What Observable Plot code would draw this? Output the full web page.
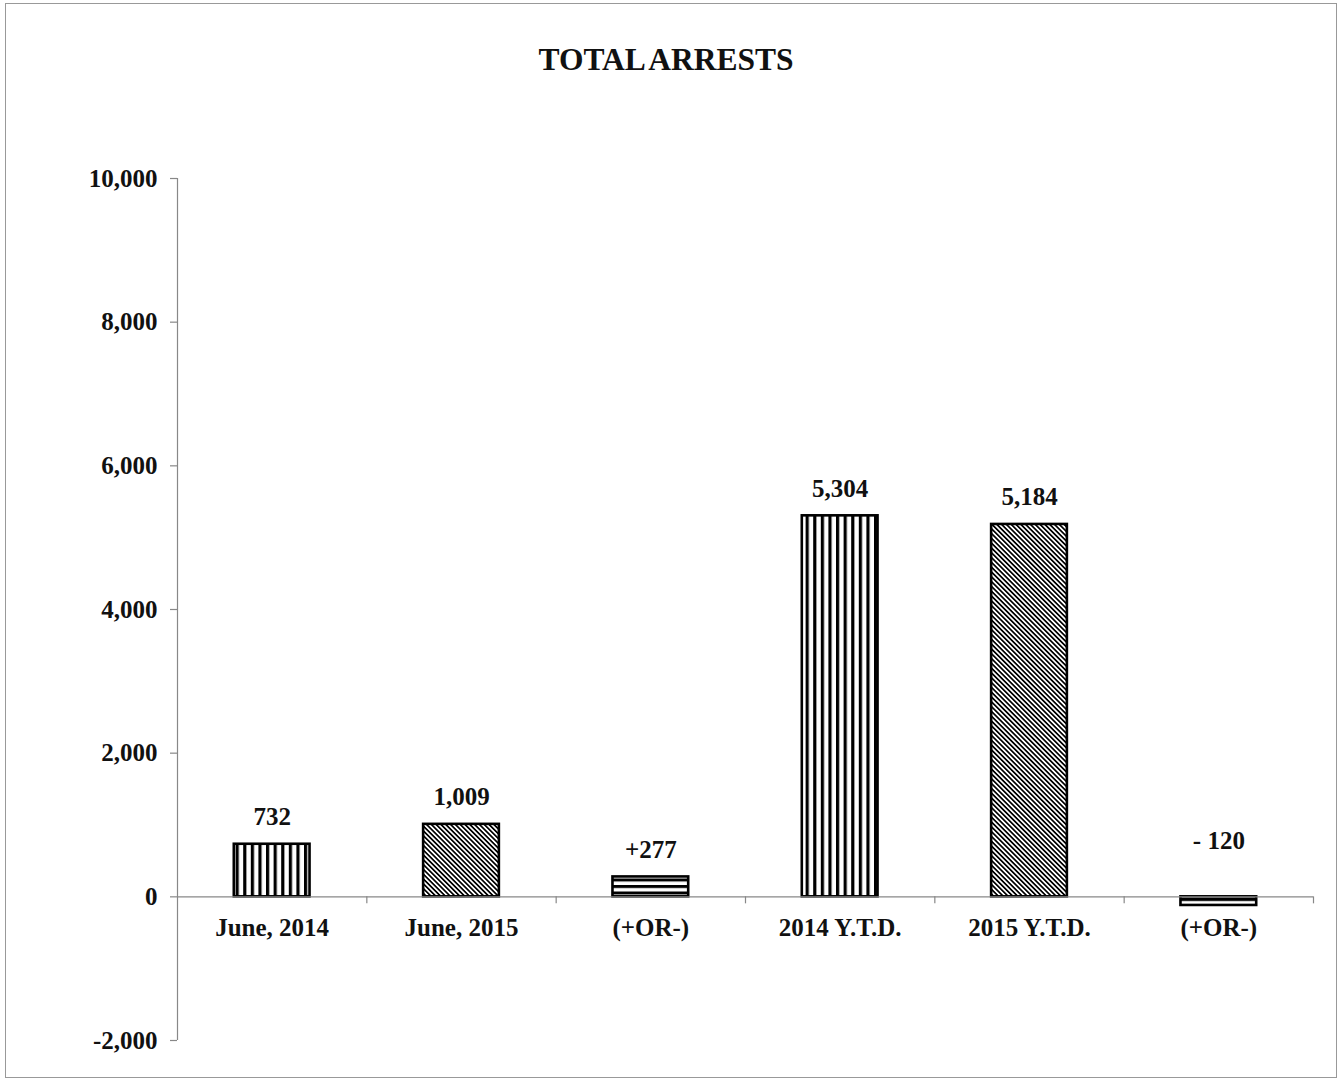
<!DOCTYPE html>
<html>
<head>
<meta charset="utf-8">
<script src="https://cdn.jsdelivr.net/npm/d3@7"></script>
<script src="https://cdn.jsdelivr.net/npm/@observablehq/plot@0.6"></script>
<style>
  html, body { margin: 0; padding: 0; background: #fff; }
  #wrap { position: relative; width: 1341px; height: 1082px; overflow: hidden; font-family: "Liberation Serif", "Times New Roman", serif; }
  #frame { position: absolute; left: 5px; top: 3px; width: 1332px; height: 1075px; border: 1.5px solid #999; box-sizing: border-box; }
  #title { position: absolute; left: 0; width: 1332px; top: 42px; text-align: center; font-weight: bold; font-size: 31.5px; color: #111; word-spacing: -2px; }
  #chart { position: absolute; left: 0; top: 0; }
</style>
</head>
<body>
<div id="wrap">
  <div id="frame"></div>
  <div id="title">TOTAL ARRESTS</div>
  <div id="chart"></div>
</div>
<script>
// ---- data ----
const categories = ["June, 2014", "June, 2015", "(+OR-)", "2014 Y.T.D.", "2015 Y.T.D.", "(+OR-)"];
const values = [732, 1009, 277, 5304, 5184, -120];
const valueLabels = ["732", "1,009", "+277", "5,304", "5,184", "- 120"];
const seriesKind = ["year2014", "year2015", "change", "year2014", "year2015", "change"];
const yTicks = [-2000, 0, 2000, 4000, 6000, 8000, 10000];
const yTickLabels = ["-2,000", "0", "2,000", "4,000", "6,000", "8,000", "10,000"];

const data = categories.map((c, i) => ({ i, category: c, value: values[i], label: valueLabels[i], kind: seriesKind[i] }));
const boundaries = d3.range(1, categories.length + 1);

const fontFamily = '"Liberation Serif", "Times New Roman", serif';
const fs = 25;

const chart = Plot.plot({
  width: 1341,
  height: 1082,
  marginLeft: 177,
  marginRight: 28,
  marginTop: 178,
  marginBottom: 42,
  style: { fontFamily, background: "transparent", overflow: "visible" },
  x: { domain: [0, categories.length], axis: null },
  y: { domain: [-2000, 10000], axis: null },
  color: { type: "identity" },
  marks: [
    // y axis line
    Plot.ruleX([0], { y1: -2000, y2: 10000, stroke: "#888", strokeWidth: 1.2 }),
    // y ticks
    Plot.ruleY(yTicks, { x1: 0, x2: 0, insetLeft: -7, stroke: "#888", strokeWidth: 1.2 }),
    Plot.text(yTicks, { x: 0, y: d => d, text: (d, k) => yTickLabels[k], dx: -20, textAnchor: "end", fontSize: fs, fontWeight: "bold", fill: "#111" }),
    // bars
    Plot.rectY(data, { x1: d => d.i + 0.3, x2: d => d.i + 0.7, y: "value", fill: d => `url(#pat-${d.kind})`, stroke: "#000", strokeWidth: 2.6 }),
    // x axis line at zero
    Plot.ruleY([0], { x1: 0, x2: categories.length, stroke: "#888", strokeWidth: 1.2 }),
    // x boundary ticks
    Plot.ruleX(boundaries, { y1: 0, y2: 0, insetBottom: -7, stroke: "#888", strokeWidth: 1.2 }),
    // category labels
    Plot.text(data, { x: d => d.i + 0.5, y: 0, text: "category", dy: 31, fontSize: fs, fontWeight: "bold", fill: "#111" }),
    // value labels
    Plot.text(data.filter(d => d.value >= 0), { x: d => d.i + 0.5, y: "value", text: "label", dy: -27, fontSize: fs, fontWeight: "bold", fill: "#111" }),
    Plot.text(data.filter(d => d.value < 0), { x: d => d.i + 0.5, y: 0, text: "label", dy: -56, fontSize: fs, fontWeight: "bold", fill: "#111" })
  ]
});

// hatch patterns
const ns = "http://www.w3.org/2000/svg";
const defs = document.createElementNS(ns, "defs");
defs.innerHTML = `
  <pattern id="pat-year2014" patternUnits="userSpaceOnUse" width="7.6" height="10">
    <rect width="7.6" height="10" fill="#fff"/>
    <rect x="0" y="0" width="3.2" height="10" fill="#000"/>
  </pattern>
  <pattern id="pat-year2015" patternUnits="userSpaceOnUse" width="3.4" height="3.4" patternTransform="rotate(-45)">
    <rect width="3.4" height="3.4" fill="#fff"/>
    <rect x="0" y="0" width="1.7" height="3.4" fill="#000"/>
  </pattern>
  <pattern id="pat-change" patternUnits="userSpaceOnUse" width="10" height="6.5" y="1">
    <rect width="10" height="6.5" fill="#fff"/>
    <rect x="0" y="0" width="10" height="3" fill="#000"/>
  </pattern>`;
chart.insertBefore(defs, chart.firstChild);
document.getElementById("chart").appendChild(chart);
</script>
</body>
</html>
